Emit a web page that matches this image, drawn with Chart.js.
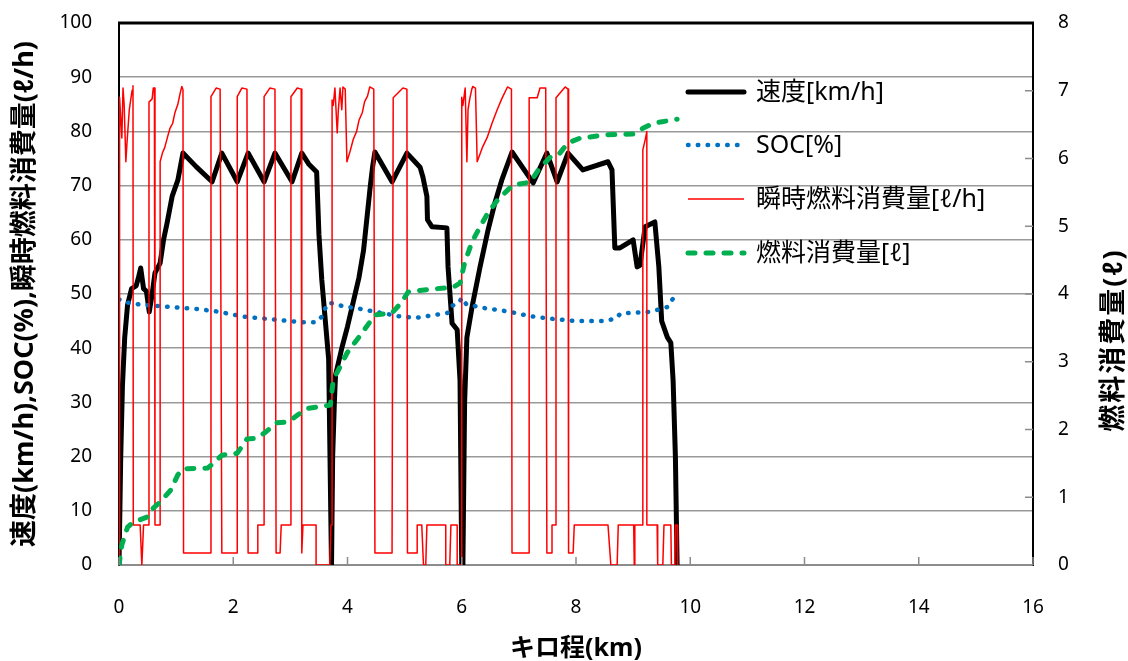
<!DOCTYPE html>
<html><head><meta charset="utf-8">
<script src="https://cdn.jsdelivr.net/npm/chart.js@4"></script>
<style>html,body{margin:0;padding:0;background:#fff}#wrap{width:1128px;height:661px;position:relative}</style>
</head><body><div id="wrap"><canvas id="c"></canvas></div>
<script>
// ---- data (km along route) ----
const xTickLabels = [0,2,4,6,8,10,12,14,16];
const leftTickLabels = [0,10,20,30,40,50,60,70,80,90,100];
const rightTickLabels = [0,1,2,3,4,5,6,7,8];
const seriesNames = ['速度[km/h]','SOC[%]','瞬時燃料消費量[ℓ/h]','燃料消費量[ℓ]'];

const speedKm  = [0.00,0.03,0.06,0.10,0.15,0.22,0.30,0.34,0.38,0.43,0.48,0.53,0.58,0.63,0.72,0.78,0.84,0.93,1.03,1.12,1.35,1.63,1.80,2.07,2.26,2.54,2.73,3.03,3.20,3.32,3.46,3.50,3.55,3.67,3.72,3.74,3.77,3.79,3.90,4.00,4.10,4.20,4.28,4.35,4.40,4.44,4.48,4.78,5.04,5.27,5.32,5.39,5.40,5.48,5.74,5.76,5.83,5.92,5.97,6.00,6.02,6.05,6.09,6.18,6.32,6.46,6.58,6.70,6.88,7.25,7.49,7.67,7.86,8.12,8.56,8.63,8.68,8.77,9.00,9.07,9.12,9.21,9.38,9.45,9.50,9.60,9.66,9.70,9.74,9.77];
const speedVal = [0,20,33,42,48,51,51.5,53,54.8,51,50.5,46.7,50,53.9,55.7,60,63,68,71,76,73.5,70.7,76,70.7,76,70.7,76,70.7,76,74,72.5,61,52.6,38,0,20,30,35,40,44,48.5,53,58,65,70,73.5,76.2,70.7,76,73.4,71.6,68,63.7,62.4,62.2,55,44.6,43.4,34,0,0,30,42,47.6,55,61.8,66.8,71,76.2,70.5,76,70.7,76,72.9,74.4,72.9,58.5,58.5,60,55,55.3,62.4,63.3,55,45,42,41,34,20,0];

const socKm  = [0.00,0.10,0.40,0.90,1.40,1.70,2.20,2.70,3.20,3.45,3.55,3.65,3.75,3.90,4.20,4.60,4.90,5.20,5.50,5.75,5.82,5.95,6.00,6.08,6.40,6.80,7.20,7.60,8.00,8.50,8.70,8.78,9.30,9.60,9.72,9.80];
const socVal = [49.0,48.5,48.0,47.6,47.2,46.8,45.8,45.3,44.8,44.8,45.8,48.3,48.3,47.8,47.3,46.5,45.9,45.6,46.1,46.5,47.8,48.3,49.3,48.1,47.4,46.8,45.9,45.4,45.0,45.0,45.5,46.4,46.7,47.6,49.5,50.0];

const rateKm  = [0.00,0.01,0.05,0.07,0.09,0.12,0.14,0.18,0.23,0.245,0.25,0.37,0.40,0.43,0.525,0.525,0.58,0.60,0.62,0.63,0.72,0.72,0.76,0.80,0.85,0.89,0.94,0.98,1.03,1.07,1.10,1.12,1.13,1.61,1.61,1.70,1.77,1.80,2.07,2.07,2.15,2.24,2.26,2.43,2.43,2.54,2.54,2.64,2.73,2.75,2.82,2.84,3.01,3.01,3.12,3.19,3.20,3.22,3.45,3.45,3.69,3.71,3.73,3.73,3.75,3.78,3.82,3.84,3.87,3.90,3.92,3.96,3.99,4.05,4.10,4.16,4.20,4.26,4.30,4.35,4.39,4.46,4.48,4.78,4.80,4.97,5.04,5.05,5.22,5.22,5.30,5.33,5.37,5.39,5.72,5.72,5.79,5.81,5.92,5.92,6.00,6.00,6.02,6.06,6.09,6.11,6.14,6.18,6.19,6.24,6.27,6.36,6.45,6.53,6.62,6.70,6.80,6.87,6.88,7.18,7.18,7.32,7.37,7.47,7.49,7.58,7.58,7.65,7.65,7.81,7.86,7.87,7.95,7.97,8.56,8.61,8.72,8.74,9.01,9.02,9.03,9.16,9.17,9.21,9.24,9.24,9.42,9.43,9.52,9.54,9.66,9.67,9.73,9.74,9.77,9.78];
const rateVal = [0,86.3,78.8,88,85,74.4,77.9,84,87.6,88.4,7.4,7.4,0,7.4,7.4,85.4,86,88,88,7.4,7.4,74.4,76,77,79,80.5,81.5,83.5,85,87,88.3,87.7,2.2,2.2,86.4,88,87.8,2.2,2.2,86.4,88,87.8,2.2,2.2,7.4,7.4,86.4,88,87.8,2.2,2.2,7.4,7.4,86.4,88,87.8,2.2,7.4,7.4,0,0,7.4,7.4,85.8,84.8,88,79.7,84,88,84,88.2,87.8,74.4,76.5,78.5,80,82,83.5,85.5,86.5,88.2,87.8,2.2,2.2,86.2,88,87.8,2.2,2.2,7.4,7.4,0,0,7.4,7.4,0,0,7.4,7.4,0,0,86.3,84.8,88,74.4,84,86,88,88.3,88,74.4,77,79,81.5,84,86,88.2,87.8,2.2,2.2,86.2,86.2,88,88,2.2,2.2,7.4,7.4,86.2,88.2,87.8,2.2,2.2,7.4,7.4,0,0,7.4,7.4,0,7.4,7.4,76.6,78.4,80,7.4,7.4,0,0,7.4,7.4,0,0,7.4,7.4,0];

const fuelKm  = [0.00,0.05,0.15,0.25,0.50,0.60,0.72,0.90,1.03,1.12,1.55,1.65,1.80,2.07,2.24,2.40,2.55,2.76,2.96,3.12,3.30,3.70,3.75,4.00,4.25,4.48,4.78,4.95,5.06,5.45,5.85,5.97,6.05,6.18,6.32,6.46,6.63,6.80,6.90,7.20,7.34,7.55,7.69,7.86,8.07,8.55,9.00,9.18,9.35,9.77];
const fuelVal = [0,0.30,0.56,0.63,0.71,0.84,0.93,1.10,1.33,1.42,1.43,1.50,1.62,1.65,1.86,1.87,1.95,2.10,2.11,2.21,2.31,2.36,2.73,3.14,3.42,3.69,3.72,3.88,4.03,4.07,4.10,4.16,4.46,4.77,4.99,5.20,5.39,5.53,5.61,5.65,5.83,6.02,6.05,6.23,6.30,6.35,6.36,6.45,6.52,6.58];

const pts = (xs, ys) => xs.map((x, i) => ({x: x, y: ys[i]}));

const FONT = '"Noto Sans", "Noto Sans CJK JP", sans-serif';

const styles = [
  {color:'#000000', width:5, dash:[], cap:'round'},
  {color:'#0070C0', width:4.5, dash:[0.5, 9.3], cap:'round'},
  {color:'#FF0000', width:1.5, dash:[], cap:'butt'},
  {color:'#00B050', width:5, dash:[7, 11], cap:'round'}
];

const framePlugin = {
  id: 'frame',
  afterDraw(chart) {
    const {ctx, chartArea: a, scales} = chart;
    ctx.save();
    ctx.strokeStyle = '#8c8c8c';
    ctx.lineWidth = 1.5;
    xTickLabels.forEach(v => {
      const px = scales.x.getPixelForValue(v);
      ctx.beginPath(); ctx.moveTo(px, a.bottom); ctx.lineTo(px, a.bottom - 8); ctx.stroke();
    });
    rightTickLabels.forEach(v => {
      const py = scales.y1.getPixelForValue(v);
      ctx.beginPath(); ctx.moveTo(a.right, py); ctx.lineTo(a.right - 8, py); ctx.stroke();
    });
    ctx.strokeStyle = '#000';
    ctx.lineWidth = 3;
    ctx.beginPath(); ctx.moveTo(a.left - 1, a.top); ctx.lineTo(a.right + 1, a.top); ctx.stroke();
    ctx.restore();
  }
};

const legendPlugin = {
  id: 'customLegend',
  afterDraw(chart) {
    const ctx = chart.ctx;
    const rows = [92, 145, 199, 253];
    ctx.save();
    seriesNames.forEach((name, i) => {
      const s = styles[i];
      const y = rows[i];
      ctx.strokeStyle = s.color;
      ctx.lineWidth = s.width;
      ctx.lineCap = s.cap;
      ctx.setLineDash(s.dash);
      ctx.beginPath();
      ctx.moveTo(688, y);
      ctx.lineTo(744, y);
      ctx.stroke();
      ctx.setLineDash([]);
      ctx.fillStyle = '#000';
      ctx.font = '25px ' + FONT;
      ctx.textBaseline = 'middle';
      ctx.textAlign = 'left';
      ctx.fillText(name, 756, y + 1);
    });
    ctx.restore();
  }
};

const rightTitlePlugin = {
  id: 'rightTitle',
  afterDraw(chart) {
    const ctx = chart.ctx;
    ctx.save();
    ctx.translate(1114, 340);
    ctx.rotate(-Math.PI / 2);
    ctx.fillStyle = '#000';
    ctx.font = 'bold 27px ' + FONT;
    try { ctx.letterSpacing = '2px'; } catch (e) {}
    ctx.textAlign = 'center';
    ctx.textBaseline = 'middle';
    ctx.fillText('燃料消費量(ℓ)', 0, 0);
    ctx.restore();
  }
};

const mk = (i, label, data, axis, order) => ({
  label, data, yAxisID: axis, order,
  borderColor: styles[i].color, backgroundColor: styles[i].color,
  borderWidth: styles[i].width, borderDash: styles[i].dash,
  borderCapStyle: styles[i].cap, borderJoinStyle: 'round',
  pointRadius: 0, pointHoverRadius: 0, tension: 0, fill: false
});

new Chart(document.getElementById('c'), {
  type: 'line',
  data: {
    datasets: [
      mk(0, seriesNames[0], pts(speedKm, speedVal), 'y', 4),
      mk(1, seriesNames[1], pts(socKm, socVal), 'y', 3),
      mk(2, seriesNames[2], pts(rateKm, rateVal), 'y', 2),
      mk(3, seriesNames[3], pts(fuelKm, fuelVal), 'y1', 1)
    ]
  },
  options: {
    responsive: true,
    maintainAspectRatio: false,
    animation: false,
    layout: {padding: {top: 23, left: 0, right: 0, bottom: 0}},
    plugins: {legend: {display: false}, tooltip: {enabled: false}},
    scales: {
      x: {
        type: 'linear', min: 0, max: 16,
        afterBuildTicks: s => { s.ticks = xTickLabels.map(v => ({value: v})); },
        ticks: {font: {family: FONT, size: 19}, color: '#000', padding: 31, maxRotation: 0},
        grid: {display: false, drawTicks: false},
        border: {display: true, color: '#8c8c8c', width: 2},
        title: {display: true, text: 'キロ程(km)', color: '#000',
                font: {family: FONT, size: 25, weight: 'bold', lineHeight: 1}, padding: {top: 0, bottom: 0}},
        afterFit: s => { s.height = 96; s.paddingLeft = 0; s.paddingRight = 0; }
      },
      y: {
        position: 'left', min: 0, max: 100,
        afterBuildTicks: s => { s.ticks = leftTickLabels.map(v => ({value: v})); },
        ticks: {font: {family: FONT, size: 19}, color: '#000', padding: 27},
        grid: {color: '#999999', lineWidth: 1.5, drawTicks: false},
        border: {display: true, color: '#000', width: 2},
        title: {display: true, text: '速度(km/h),SOC(%),瞬時燃料消費量(ℓ/h)', color: '#000',
                font: {family: FONT, size: 27, weight: 'bold', lineHeight: 1}, padding: {top: 12, bottom: 0}},
        afterFit: s => { s.width = 119; s.paddingTop = 0; s.paddingBottom = 0; }
      },
      y1: {
        position: 'right', min: 0, max: 8,
        afterBuildTicks: s => { s.ticks = rightTickLabels.map(v => ({value: v})); },
        ticks: {font: {family: FONT, size: 19}, color: '#000', padding: 25},
        grid: {drawOnChartArea: false, drawTicks: false},
        border: {display: true, color: '#000', width: 2},
        afterFit: s => { s.width = 95; s.paddingTop = 0; s.paddingBottom = 0; }
      }
    }
  },
  plugins: [framePlugin, legendPlugin, rightTitlePlugin]
});
</script>
</body></html>
